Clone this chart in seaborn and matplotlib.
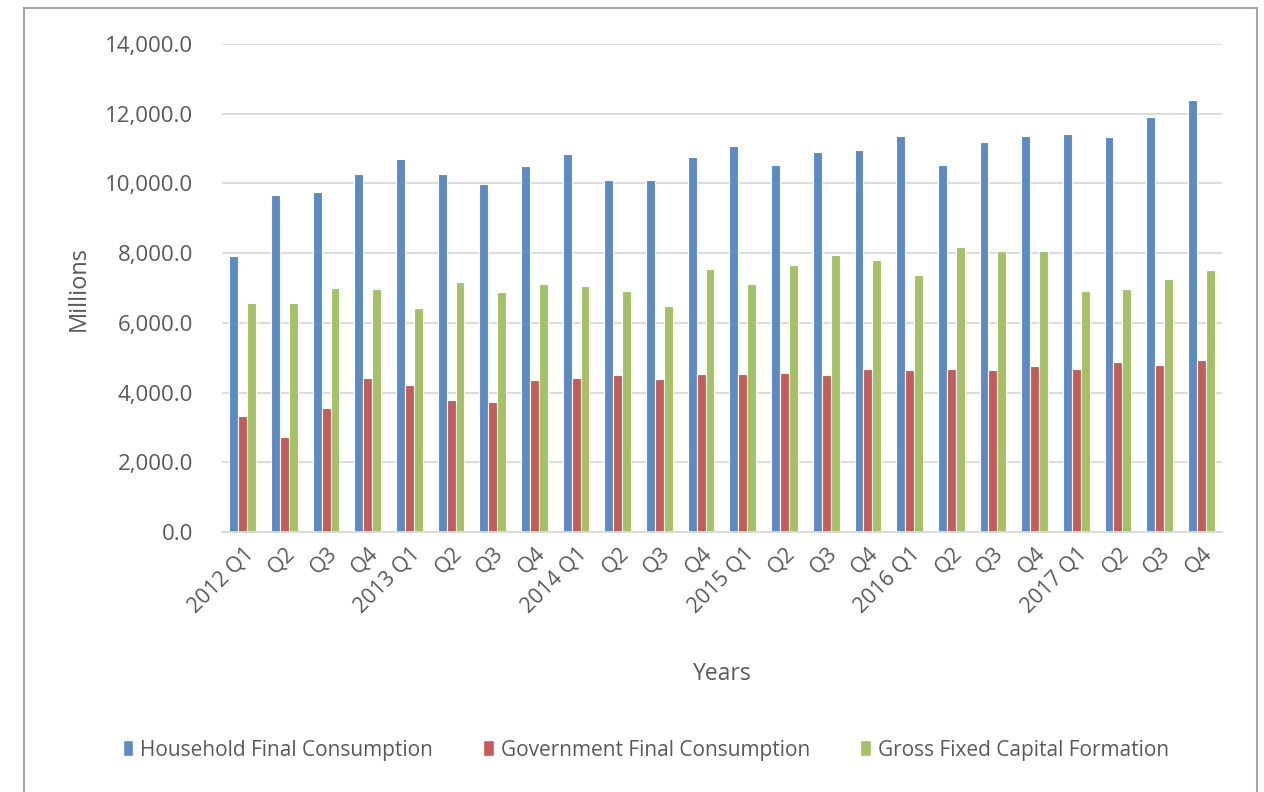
import matplotlib
matplotlib.use("Agg")
import matplotlib.pyplot as plt
from matplotlib.patches import Rectangle
import seaborn as sns
import pandas as pd

# Quarterly expenditure components (millions)
quarters = ["2012 Q1", "Q2", "Q3", "Q4",
            "2013 Q1", "Q2", "Q3", "Q4",
            "2014 Q1", "Q2", "Q3", "Q4",
            "2015 Q1", "Q2", "Q3", "Q4",
            "2016 Q1", "Q2", "Q3", "Q4",
            "2017 Q1", "Q2", "Q3", "Q4"]

household = [7920, 9670, 9750, 10270, 10710, 10270, 9970, 10490,
             10850, 10090, 10110, 10750, 11070, 10530, 10900, 10970,
             11370, 10530, 11190, 11370, 11410, 11330, 11920, 12400]

government = [3330, 2730, 3550, 4430, 4210, 3800, 3730, 4360,
              4430, 4500, 4390, 4540, 4540, 4570, 4500, 4680,
              4650, 4680, 4650, 4760, 4680, 4870, 4800, 4940]

gfcf = [6560, 6560, 7000, 6960, 6440, 7180, 6880, 7110,
        7070, 6920, 6480, 7540, 7110, 7670, 7960, 7800,
        7360, 8170, 8060, 8060, 6920, 6960, 7260, 7510]

series_names = ["Household Final Consumption",
                "Government Final Consumption",
                "Gross Fixed Capital Formation"]
colors = ["#5B8BC7", "#C85A57", "#A3C263"]

# Long-form table: one row per (quarter position, series)
positions = [f"{i:02d}" for i in range(len(quarters))]
rows = []
for name, vals in zip(series_names, [household, government, gfcf]):
    for pos, v in zip(positions, vals):
        rows.append({"pos": pos, "series": name, "value": v})
df = pd.DataFrame(rows)

sns.set_theme(style="white")
plt.rcParams["font.family"] = ["Open Sans", "DejaVu Sans"]
text_color = "#595959"
grid_color = "#D9D9D9"

fig = plt.figure(figsize=(12.64, 7.92), dpi=100)
ax = fig.add_axes([0.1756, 0.3283, 0.7912, 0.6161])

sns.barplot(data=df, x="pos", y="value", hue="series", order=positions,
            hue_order=series_names, palette=colors, saturation=1,
            width=0.64, edgecolor="white", linewidth=0.8, ax=ax,
            errorbar=None, legend=False)

ax.set_ylim(0, 14000)
ax.set_xlim(-0.5, len(quarters) - 0.5)
ax.set_yticks(range(0, 14001, 2000))
ax.set_yticklabels([f"{v:,.1f}" for v in range(0, 14001, 2000)],
                   fontsize=16, color=text_color)
ax.yaxis.grid(True, color=grid_color, linewidth=1.3)
ax.set_axisbelow(True)

ax.set_xticks(range(len(quarters)))
ax.set_xticklabels(quarters, rotation=45, ha="right", rotation_mode="anchor",
                   fontsize=15.5, color=text_color)
ax.set_xticks([i - 0.5 for i in range(len(quarters) + 1)], minor=True)
ax.tick_params(axis="x", which="major", length=0, pad=8)
ax.tick_params(axis="x", which="minor", length=7, width=1.3, color=grid_color)
ax.tick_params(axis="y", length=0, pad=21)

for side in ["left", "right", "top"]:
    ax.spines[side].set_visible(False)
ax.spines["bottom"].set_color(grid_color)
ax.spines["bottom"].set_linewidth(1.3)

ax.set_xlabel("Years", fontsize=16.5, color=text_color, labelpad=32)
ax.set_ylabel("Millions", fontsize=17, color=text_color, labelpad=10)

handles = [Rectangle((0, 0), 1, 1, facecolor=c) for c in colors]
fig.legend(handles, series_names, loc="center", bbox_to_anchor=(0.511, 0.053),
           ncol=3, frameon=False, fontsize=15, labelcolor=text_color,
           handlelength=0.5, handleheight=0.8, handletextpad=0.35,
           columnspacing=2.4)

# Chart frame
fig.patches.append(Rectangle((24 / 1264, -0.05), (1257 - 24) / 1264,
                             1.05 - 8 / 792, transform=fig.transFigure,
                             fill=False, edgecolor="#A6A6A6", linewidth=1.5))

fig.savefig("out.png", dpi=100, facecolor="white")
